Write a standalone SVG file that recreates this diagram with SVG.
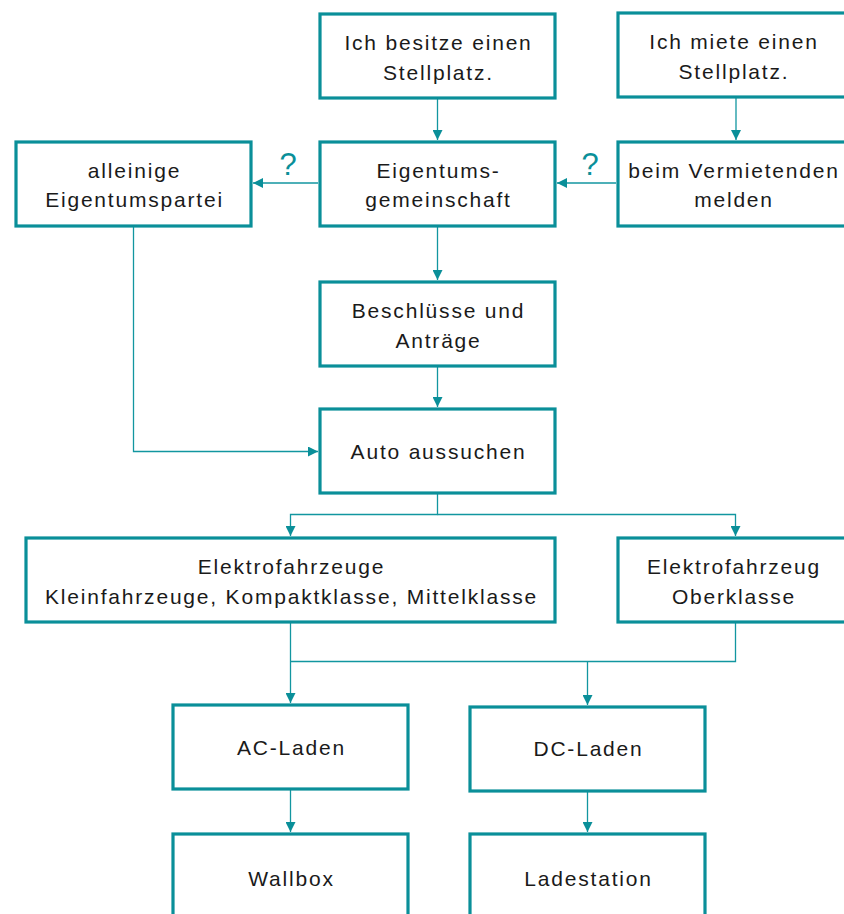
<svg xmlns="http://www.w3.org/2000/svg" width="844" height="914" viewBox="0 0 844 914">
<style>
.box{fill:#ffffff;stroke:#0a8f99;stroke-width:3.2}
.t{font-family:"Liberation Sans",Arial,sans-serif;font-size:21px;letter-spacing:1.8px;fill:#1a1a1a;text-anchor:middle}
.q{font-family:"Liberation Sans",Arial,sans-serif;font-size:31px;fill:#0a8f99;text-anchor:middle}
.c{fill:none;stroke:#1296a0;stroke-width:1.3}
</style>
<defs>
<marker id="ah" viewBox="0 0 10 10" refX="10" refY="5" markerWidth="10" markerHeight="10" markerUnits="userSpaceOnUse" orient="auto">
<path d="M0,0 L10,5 L0,10 Z" fill="#0a8f99"/>
</marker>
</defs>
<rect width="844" height="914" fill="#ffffff"/>
<g id="connectors">
<path class="c" d="M437.5,99 V140" marker-end="url(#ah)"/>
<path class="c" d="M736,98 V140" marker-end="url(#ah)"/>
<path class="c" d="M318,183 H253" marker-end="url(#ah)"/>
<path class="c" d="M616,183 H557" marker-end="url(#ah)"/>
<path class="c" d="M437.5,227 V280" marker-end="url(#ah)"/>
<path class="c" d="M437.5,367 V407" marker-end="url(#ah)"/>
<path class="c" d="M133.5,227 V451.5 H318" marker-end="url(#ah)"/>
<path class="c" d="M437.5,494 V514.5 H290.5 V536" marker-end="url(#ah)"/>
<path class="c" d="M437.5,514.5 H735.5 V536" marker-end="url(#ah)"/>
<path class="c" d="M290.5,623 V703" marker-end="url(#ah)"/>
<path class="c" d="M735.5,623 V661.5 H290.5"/>
<path class="c" d="M587.5,661.5 V705" marker-end="url(#ah)"/>
<path class="c" d="M290.5,790 V832" marker-end="url(#ah)"/>
<path class="c" d="M587.5,792 V832" marker-end="url(#ah)"/>
<text class="q" x="288" y="175">?</text>
<text class="q" x="590" y="175">?</text>
</g>
<g id="n1"><rect class="box" x="320" y="14" width="235" height="84"/><text class="t" x="438.5" y="50">Ich besitze einen</text><text class="t" x="438.5" y="80">Stellplatz.</text></g>
<g id="n2"><rect class="box" x="618" y="13" width="235" height="84"/><text class="t" x="734" y="49">Ich miete einen</text><text class="t" x="734" y="79">Stellplatz.</text></g>
<g id="n3"><rect class="box" x="320" y="142" width="235" height="84"/><text class="t" x="438.5" y="178">Eigentums-</text><text class="t" x="438.5" y="207">gemeinschaft</text></g>
<g id="n4"><rect class="box" x="16" y="142" width="235" height="84"/><text class="t" x="134.5" y="178">alleinige</text><text class="t" x="134.5" y="207">Eigentumspartei</text></g>
<g id="n5"><rect class="box" x="618" y="142" width="235" height="84"/><text class="t" x="734" y="178">beim Vermietenden</text><text class="t" x="734" y="207">melden</text></g>
<g id="n6"><rect class="box" x="320" y="282" width="235" height="84"/><text class="t" x="438.5" y="318">Beschlüsse und</text><text class="t" x="438.5" y="348">Anträge</text></g>
<g id="n7"><rect class="box" x="320" y="409" width="235" height="84"/><text class="t" x="438.5" y="459">Auto aussuchen</text></g>
<g id="n8"><rect class="box" x="26" y="538" width="529" height="84"/><text class="t" x="291.5" y="574">Elektrofahrzeuge</text><text class="t" x="291.5" y="604">Kleinfahrzeuge, Kompaktklasse, Mittelklasse</text></g>
<g id="n9"><rect class="box" x="618" y="538" width="235" height="84"/><text class="t" x="734" y="574">Elektrofahrzeug</text><text class="t" x="734" y="604">Oberklasse</text></g>
<g id="n10"><rect class="box" x="173" y="705" width="235" height="84"/><text class="t" x="291.5" y="755">AC-Laden</text></g>
<g id="n11"><rect class="box" x="470" y="707" width="235" height="84"/><text class="t" x="588.5" y="756">DC-Laden</text></g>
<g id="n12"><rect class="box" x="173" y="834" width="235" height="84"/><text class="t" x="291.5" y="886">Wallbox</text></g>
<g id="n13"><rect class="box" x="470" y="834" width="235" height="84"/><text class="t" x="588.5" y="886">Ladestation</text></g>
</svg>
